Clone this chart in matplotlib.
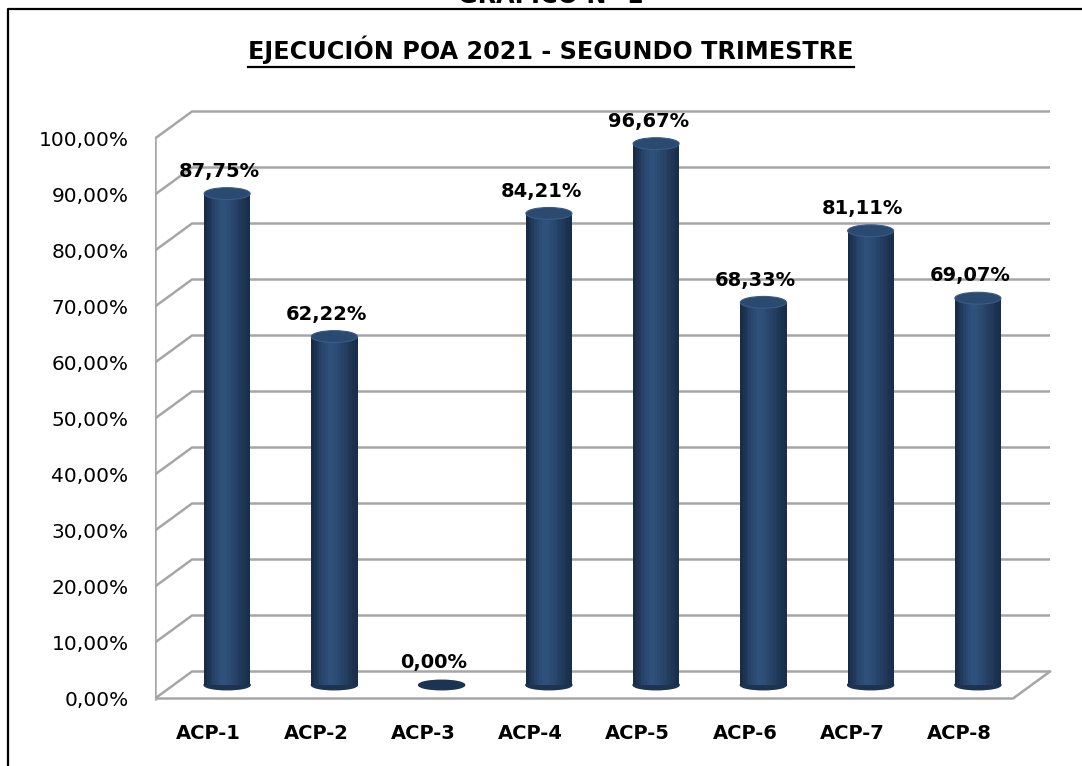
import matplotlib
matplotlib.use("Agg")
import matplotlib.pyplot as plt
import numpy as np
from matplotlib.patches import Ellipse, Rectangle
from matplotlib.lines import Line2D

# chart data
categories = ["ACP-1", "ACP-2", "ACP-3", "ACP-4", "ACP-5", "ACP-6", "ACP-7", "ACP-8"]
values = [87.75, 62.22, 0.00, 84.21, 96.67, 68.33, 81.11, 69.07]
y_ticks = [0, 10, 20, 30, 40, 50, 60, 70, 80, 90, 100]

title = "EJECUCIÓN POA 2021 - SEGUNDO TRIMESTRE"
top_title = "GRÁFICO N° 1"

plt.rcParams["font.family"] = "DejaVu Sans"

W, H = 1082, 766
fig = plt.figure(figsize=(W / 100, H / 100), dpi=100)

# layout in pixels (front plane of the 3d box)
px_left = 155.0
px_cat = 107.25           # pixels per category
px_zero = 698.5           # y pixel of 0 % on the front plane
px_pct = 5.6              # pixels per percent
xlim = (-0.5, 8.0)
ylim = (-2.0, 108.0)

ax_l = px_left
ax_r = px_left + px_cat * (xlim[1] - xlim[0])
ax_b = px_zero - px_pct * ylim[0]
ax_t = px_zero - px_pct * ylim[1]
ax = fig.add_axes([ax_l / W, (H - ax_b) / H, (ax_r - ax_l) / W, (ax_b - ax_t) / H])
ax.set_xlim(*xlim)
ax.set_ylim(*ylim)
for s in ax.spines.values():
    s.set_visible(False)

# depth of the 3d box in data units
ddx = 37 / px_cat
ddy = 27 / px_pct
n = len(categories)
x_front_end = n - 0.5

grid_col = "#a6a6a6"
# side wall edge
ax.plot([-0.5, -0.5], [0, 100], color=grid_col, lw=1.8, zorder=1)
# gridlines on the back/side wall
for v in y_ticks:
    ax.plot([-0.5, -0.5 + ddx, x_front_end + ddx], [v, v + ddy, v + ddy],
            color=grid_col, lw=1.8, zorder=1, solid_capstyle="butt")
# floor
ax.plot([-0.5, x_front_end, x_front_end + ddx], [0, 0, ddy],
        color=grid_col, lw=1.8, zorder=1)

# cylinders
bar_w = 46 / px_cat
ell_h = 9.5 / px_pct
shade = np.array([0.0, 0.2, 0.4, 0.6, 0.78, 0.9, 1.0, 1.0, 0.95, 0.85, 0.75,
                  0.62, 0.5, 0.38, 0.26, 0.15, 0.05])
dark = np.array([0x18, 0x2c, 0x48]) / 255
light = np.array([0x2f, 0x50, 0x7a]) / 255
for i, v in enumerate(values):
    cx = i + ddx / 2
    base = ddy / 2
    top = v + ddy / 2
    ax.add_patch(Ellipse((cx, base), bar_w, ell_h, color="#1c3352", zorder=3))
    if v > 0:
        strip = bar_w / len(shade)
        for k, s in enumerate(shade):
            col = dark + (light - dark) * s
            ax.add_patch(Rectangle((cx - bar_w / 2 + k * strip, base), strip * 1.05,
                                   top - base, color=col, lw=0, zorder=4))
        ax.add_patch(Ellipse((cx, top), bar_w, ell_h * 1.25, facecolor="#2b4a72",
                             edgecolor="#3b5b85", lw=0.8, zorder=5))
    ax.annotate(f"{v:.2f}%".replace(".", ","), (i + 0.1, top), xytext=(0, 16),
                textcoords="offset points", ha="center", va="center",
                fontsize=14, fontweight="bold", color="black", zorder=6)

ax.set_yticks(y_ticks)
ax.set_yticklabels([f"{v:.2f}%".replace(".", ",") for v in y_ticks], fontsize=14.5)
ax.set_xticks(range(n))
ax.set_xticklabels(categories, fontsize=14, fontweight="bold")
ax.tick_params(axis="y", length=0, pad=19)
ax.tick_params(axis="x", length=0, pad=10)

# titles
t = fig.text(551 / W, 1 - 50 / H, title, ha="center", va="center",
             fontsize=17.2, fontweight="bold")
fig.text(551 / W, 1 - 3 / H, top_title, ha="center", va="baseline",
         fontsize=17.2, fontweight="bold")
fig.canvas.draw()
bb = t.get_window_extent()
fig.add_artist(Line2D([bb.x0 / W, bb.x1 / W], [(H - 67) / H, (H - 67) / H],
                      transform=fig.transFigure, color="black", lw=1.6))

# outer frame
fig.add_artist(Line2D([8 / W, 8 / W, 1], [0, 1 - 9 / H, 1 - 9 / H],
                      transform=fig.transFigure, color="black", lw=1.6))

fig.savefig("out.png", dpi=100)
